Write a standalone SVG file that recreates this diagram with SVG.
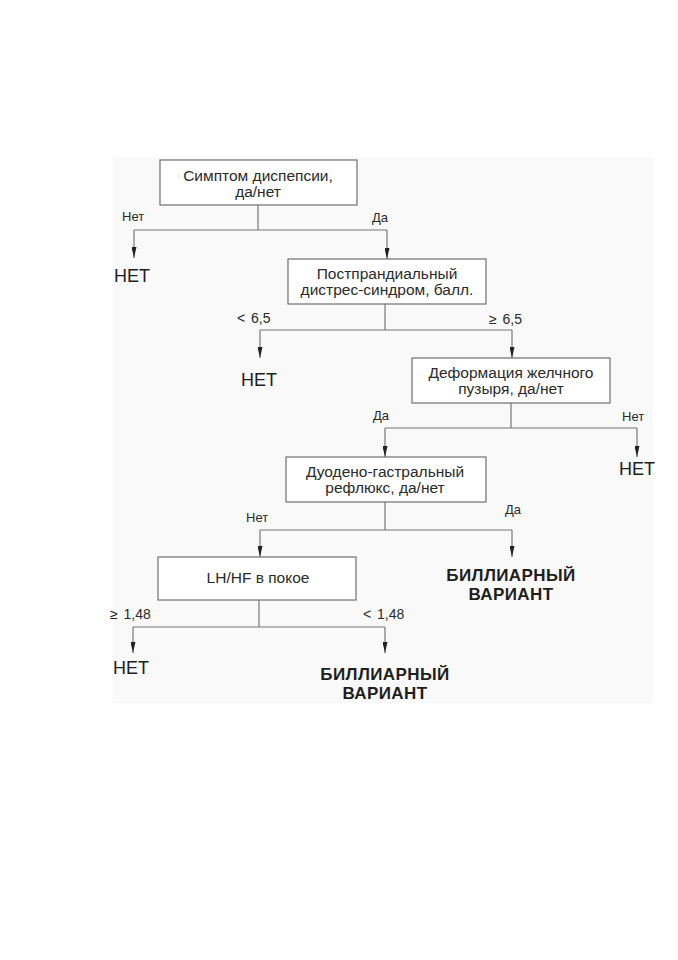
<svg xmlns="http://www.w3.org/2000/svg" width="678" height="960" viewBox="0 0 678 960">
<style>
.box{fill:#ffffff;stroke:#6e6e6e;stroke-width:1.2}
.ln{fill:none;stroke:#777777;stroke-width:1.2}
.t{font-family:"Liberation Sans",Arial,sans-serif;font-size:15.5px;fill:#2a2a2a;text-anchor:middle}
.lb{font-family:"Liberation Sans",Arial,sans-serif;font-size:13px;fill:#2a2a2a}
.nm{font-family:"Liberation Sans",Arial,sans-serif;font-size:14px;fill:#2a2a2a;word-spacing:2px}
.out{font-family:"Liberation Sans",Arial,sans-serif;font-size:18px;fill:#1e1e1e}
.bold{font-family:"Liberation Sans",Arial,sans-serif;font-size:17px;font-weight:bold;fill:#1e1e1e;text-anchor:middle;letter-spacing:0.4px}
</style>
<defs>
<marker id="ah" viewBox="0 0 11 5" refX="11" refY="2.5" markerWidth="11" markerHeight="5" markerUnits="userSpaceOnUse" orient="auto">
<path d="M0,0 L11,2.5 L0,5 Z" fill="#222222"/>
</marker>
</defs>
<rect width="678" height="960" fill="#ffffff"/>
<rect x="113" y="157" width="540" height="546" fill="#f9f9f9"/>
<g id="connectors">
<path class="ln" d="M258,205 V230 M134,230 H387"/>
<path class="ln" d="M134,230 V258" marker-end="url(#ah)"/>
<path class="ln" d="M387,230 V259" marker-end="url(#ah)"/>
<path class="ln" d="M385,304 V330 M260,330 H512"/>
<path class="ln" d="M260,330 V358" marker-end="url(#ah)"/>
<path class="ln" d="M512,330 V358" marker-end="url(#ah)"/>
<path class="ln" d="M511,403 V428 M385,428 H637"/>
<path class="ln" d="M385,428 V457" marker-end="url(#ah)"/>
<path class="ln" d="M637,428 V457" marker-end="url(#ah)"/>
<path class="ln" d="M385,502 V530 M260,530 H512"/>
<path class="ln" d="M260,530 V557" marker-end="url(#ah)"/>
<path class="ln" d="M512,530 V557" marker-end="url(#ah)"/>
<path class="ln" d="M259,600 V627 M133,627 H385"/>
<path class="ln" d="M133,627 V653" marker-end="url(#ah)"/>
<path class="ln" d="M385,627 V653" marker-end="url(#ah)"/>
<text class="lb" x="122" y="221">Нет</text>
<text class="lb" x="372" y="222">Да</text>
<text class="nm" x="237" y="323">&lt; 6,5</text>
<text class="nm" x="489" y="324">≥ 6,5</text>
<text class="lb" x="373" y="420">Да</text>
<text class="lb" x="622" y="421">Нет</text>
<text class="lb" x="246" y="522">Нет</text>
<text class="lb" x="505" y="514">Да</text>
<text class="nm" x="110" y="619">≥ 1,48</text>
<text class="nm" x="363" y="619">&lt; 1,48</text>
</g>
<g id="n1">
<rect class="box" x="160" y="160" width="197" height="45"/>
<text class="t" x="258" y="181">Симптом диспепсии,</text>
<text class="t" x="258" y="197">да/нет</text>
</g>
<g id="n2">
<rect class="box" x="288" y="259" width="198" height="45"/>
<text class="t" x="387" y="279">Постпрандиальный</text>
<text class="t" x="387" y="295">дистрес-синдром, балл.</text>
</g>
<g id="n3">
<rect class="box" x="412" y="358" width="198" height="45"/>
<text class="t" x="511" y="378">Деформация желчного</text>
<text class="t" x="511" y="394">пузыря, да/нет</text>
</g>
<g id="n4">
<rect class="box" x="286" y="457" width="200" height="45"/>
<text class="t" x="385" y="477">Дуодено-гастральный</text>
<text class="t" x="385" y="493">рефлюкс, да/нет</text>
</g>
<g id="n5">
<rect class="box" x="158" y="557" width="198" height="43"/>
<text class="t" x="258" y="583">LH/HF в покое</text>
</g>
<g id="o1"><text class="out" x="114" y="282">НЕТ</text></g>
<g id="o2"><text class="out" x="241" y="386">НЕТ</text></g>
<g id="o3"><text class="out" x="619" y="475">НЕТ</text></g>
<g id="o4">
<text class="bold" x="511" y="581">БИЛЛИАРНЫЙ</text>
<text class="bold" x="511" y="600">ВАРИАНТ</text>
</g>
<g id="o5"><text class="out" x="113" y="674">НЕТ</text></g>
<g id="o6">
<text class="bold" x="385" y="680">БИЛЛИАРНЫЙ</text>
<text class="bold" x="385" y="699">ВАРИАНТ</text>
</g>
</svg>
